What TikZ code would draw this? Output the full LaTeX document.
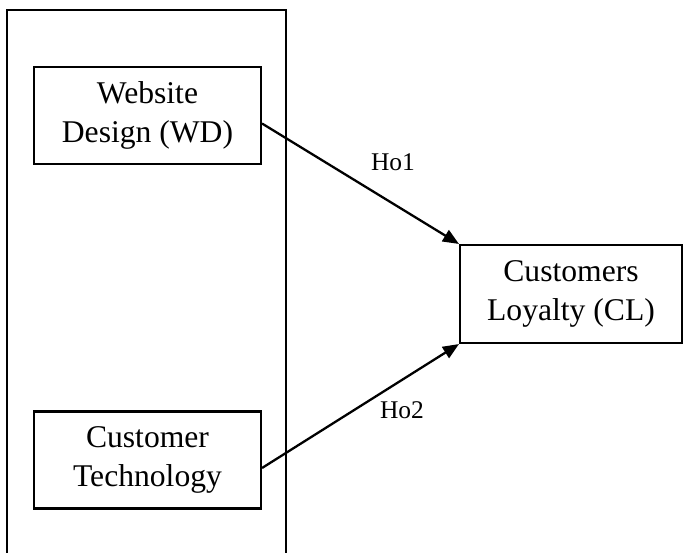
\documentclass[tikz,border=0pt]{standalone}
\usepackage{fontspec}
\setmainfont{Liberation Serif}
\usetikzlibrary{arrows.meta}

\begin{document}
\begin{tikzpicture}[
    x=0.02cm,
    y=-0.02cm,
    line join=miter,
    varbox/.style={
        draw,
        line width=1.2pt,
        minimum width=4.54cm,
        minimum height=1.94cm,
        align=center,
        inner sep=0pt,
        font=\fontsize{18}{22.2}\selectfont
    },
    hypo/.style={
        font=\fontsize{14.5}{17}\selectfont,
        inner sep=0pt
    },
    link/.style={
        line width=1.3pt,
        -{Triangle[length=0.32cm,width=0.26cm]}
    }
]
    \useasboundingbox (0,0) rectangle (683,552);

    % Frame around the independent variables (open at the bottom)
    \draw[line width=0.6pt] (7,560) |- (286,10) -- (286,560);

    % Variables
    \node[varbox] (wd) at (147.5,115.5) {Website\\Design (WD)};
    \node[varbox] (ct) at (147.5,460) {Customer\\Technology};
    \node[varbox, minimum width=4.44cm, minimum height=1.96cm] (cl) at (571,294)
        {Customers\\Loyalty (CL)};

    % Hypothesised paths
    \draw[link] ([yshift=-0.16cm]wd.east) -- (cl.north west);
    \draw[link] ([yshift=-0.16cm]ct.east) -- (cl.south west);

    \node[hypo] (ho1) at (393,162) {Ho1};
    \node[hypo] (ho2) at (402,410) {Ho2};
\end{tikzpicture}
\end{document}
